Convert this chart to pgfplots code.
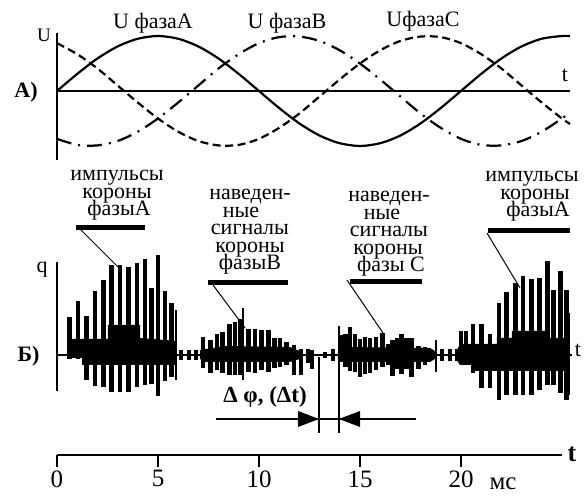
\documentclass[border=0pt]{standalone}
\usepackage{fontspec}
\setmainfont{Liberation Serif}
\usepackage{pgfplots}
\pgfplotsset{compat=1.18}

\newcommand{\lbl}{\fontsize{22}{17.5}\selectfont}

\begin{document}
\begin{tikzpicture}
\path[use as bounding box] (0pt,0pt) rectangle (584pt,497pt);

% A) three phase voltages
\begin{axis}[
    at={(57pt,337pt)}, anchor=south west,
    scale only axis, width=513pt, height=127pt,
    xmin=0, xmax=25.4, ymin=-1.255, ymax=1.055,
    axis x line=middle, axis y line=left,
    axis line style={-, line width=1.3pt},
    xtick=\empty, ytick=\empty,
    clip=false,
]
\addplot[black, line width=2.2pt, smooth] coordinates {
(0,0)(1,0.31)(2,0.59)(3,0.81)(4,0.95)(5,1)(6,0.95)(7,0.81)(8,0.59)(9,0.31)
(10,0)(11,-0.31)(12,-0.59)(13,-0.81)(14,-0.95)(15,-1)(16,-0.95)(17,-0.81)
(18,-0.59)(19,-0.31)(20,0)(21,0.31)(22,0.59)(23,0.81)(24,0.95)(25,1)(25.4,1)};
\addplot[black, line width=2.2pt, smooth, dash pattern=on 15pt off 7pt on 2pt off 7pt] coordinates {
(0,-0.87)(1,-0.98)(2,-0.99)(3,-0.91)(4,-0.74)(5,-0.5)(6,-0.21)(7,0.1)(8,0.41)
(9,0.67)(10,0.87)(11,0.98)(12,0.99)(13,0.91)(14,0.74)(15,0.5)(16,0.21)(17,-0.1)
(18,-0.41)(19,-0.67)(20,-0.87)(21,-0.98)(22,-0.99)(23,-0.91)(24,-0.74)(25,-0.5)(25.4,-0.39)};
\addplot[black, line width=2.2pt, smooth, dash pattern=on 8pt off 4.5pt] coordinates {
(0,0.87)(1,0.67)(2,0.41)(3,0.1)(4,-0.21)(5,-0.5)(6,-0.74)(7,-0.91)(8,-0.99)
(9,-0.98)(10,-0.87)(11,-0.67)(12,-0.41)(13,-0.1)(14,0.21)(15,0.5)(16,0.74)
(17,0.91)(18,0.99)(19,0.98)(20,0.87)(21,0.67)(22,0.41)(23,0.1)(24,-0.21)(25,-0.5)(25.4,-0.6)};
\end{axis}

% B) corona pulses
\begin{axis}[
    at={(57pt,106pt)}, anchor=south west,
    scale only axis, width=515pt, height=129pt,
    xmin=0, xmax=25.5, ymin=-36, ymax=93,
    axis x line=middle, axis y line=left,
    axis line style={-, line width=1.3pt},
    xtick=\empty, ytick=\empty,
    clip=false,
]
% dense core of the pulse groups
\addplot[fill=black, draw=none] coordinates {
(0.50,16)(2.52,16)(2.52,30)(4.11,30)(4.11,17)(5.94,14)
(5.94,-10)(1.24,-10)(1.24,-3)(0.50,-3)} -- cycle;
\addplot[fill=black, draw=none] coordinates {
(7.08,5)(8.32,9)(11.53,8)(12.03,4)(12.03,-4)(11.53,-7)(7.33,-7)(7.08,-4)} -- cycle;
\addplot[fill=black, draw=none] coordinates {
(13.91,4)(14.26,8)(18.47,7)(18.71,4)(18.71,-4)(18.47,-7)(14.26,-7)(13.91,-4)} -- cycle;
\addplot[fill=black, draw=none] coordinates {
(19.80,5)(19.95,11)(21.78,11)(21.78,17)(22.52,17)(22.52,24)(24.26,24)(24.26,17)(25.40,17)
(25.40,-16)(20.59,-16)(20.59,-10)(19.95,-10)(19.80,-5)} -- cycle;
% positive pulses
\addplot[ycomb, black, line width=4.5pt] coordinates {
(0.61,38)(1.05,54)(1.47,39)(1.88,64)(2.29,75)(2.71,90)(3.12,90)(3.53,88)(3.95,92)
(4.36,96)(4.69,67)(5.01,100)(5.35,64)(5.68,52)
(6.14,5)(6.53,5)(6.88,5)
(7.23,18)(7.61,15)(7.91,21)(8.20,23)(8.53,31)(8.81,33)(9.06,36)(9.47,26)(9.80,26)
(10.13,25)(10.46,25)(10.76,17)(11.04,17)(11.37,13)(11.73,10)
(12.08,6)(12.43,6)(12.62,5)(13.27,3)(13.66,6)
(14.06,20)(14.28,21)(14.50,28)(14.75,21)(15.00,16)(15.25,18)(15.50,17)(15.79,18)
(16.12,22)(16.39,11)(16.62,15)(16.83,17)(17.06,21)(17.31,17)(17.56,17)(17.89,9)
(18.22,8)(18.47,4)(19.06,6)(19.46,6)(19.80,6)
(20.00,24)(20.25,24)(20.59,31)(21.01,31)(21.44,21)(21.88,52)(22.26,63)(22.70,72)
(23.08,79)(23.50,76)(23.88,77)(24.29,94)(24.59,65)(24.94,84)(25.22,65)};
% negative pulses
\addplot[ycomb, black, line width=4.5pt] coordinates {
(0.61,-4)(1.05,-4)(1.47,-25)(1.88,-31)(2.29,-32)(2.71,-37)(3.12,-37)(3.53,-37)(3.95,-32)
(4.36,-30)(4.69,-29)(5.01,-41)(5.35,-26)(5.68,-22)
(6.14,-5)(6.53,-5)(6.88,-5)
(7.23,-13)(7.61,-18)(7.91,-15)(8.20,-18)(8.53,-20)(8.81,-20)(9.06,-20)(9.47,-17)(9.80,-18)
(10.13,-15)(10.46,-17)(10.76,-13)(11.04,-12)(11.37,-10)(11.73,-20)
(12.08,-20)(12.43,-8)(12.62,-14)(13.27,-3)(13.66,-6)
(14.06,-7)(14.28,-12)(14.50,-16)(14.75,-17)(15.00,-22)(15.25,-19)(15.50,-18)(15.79,-15)
(16.12,-12)(16.39,-10)(16.62,-21)(16.83,-14)(17.06,-19)(17.31,-14)(17.56,-22)(17.89,-14)
(18.22,-10)(18.47,-5)(19.06,-6)(19.46,-6)(19.80,-6)
(20.00,-8)(20.25,-8)(20.59,-18)(21.01,-33)(21.44,-33)(21.88,-45)(22.26,-40)(22.70,-40)
(23.08,-40)(23.50,-40)(23.88,-35)(24.29,-30)(24.59,-30)(24.94,-38)(25.22,-45)};
% thin pulses
\addplot[ycomb, black, line width=2pt] coordinates {
(5.89,45)(9.22,47)(18.76,15)(25.37,42)};
\addplot[ycomb, black, line width=2pt] coordinates {
(5.89,-25)(9.22,-25)(18.76,-17)(25.37,-40)};
\end{axis}

% time axis
\begin{axis}[
    at={(57pt,42pt)}, anchor=south west,
    scale only axis, width=505pt, height=1pt,
    xmin=0, xmax=25, ymin=0, ymax=1,
    axis x line=bottom, axis y line=none,
    axis line style={-, line width=1.3pt},
    xtick={0,5,10,15,20}, ytick=\empty,
    tick align=outside, major tick length=12pt,
    tick style={line width=1.3pt, black},
    xticklabel style={font=\fontsize{25}{25}\selectfont},
    /pgf/number format/assume math mode=true,
]
\end{axis}

\begin{scope}[shift={(0pt,497pt)}, x=1pt, y=-1pt]
\tikzset{every node/.style={inner sep=0pt, anchor=base, font=\lbl}}
% panel A text
\node at (153,29) {U фазаA};
\node at (287,29) {U фазаB};
\node at (423,27) {UфазаC};
\node[font=\fontsize{19}{19}\selectfont] at (44,42) {U};
\node at (565,82) {t};
\node[font=\fontsize{22}{22}\selectfont\bfseries] at (26,98) {A)};
% panel B text
\node at (42,273) {q};
\node at (578,357) {t};
\node[font=\fontsize{22}{22}\selectfont\bfseries] at (28.5,362) {Б)};
% group labels
\node at (117,181) {импульсы};
\node at (117,198.5) {короны};
\node at (119,216) {фазыA};
\node at (250,200) {наведен-};
\node at (241,217.5) {ные};
\node at (250,235) {сигналы};
\node at (250,252.5) {короны};
\node at (250,270) {фазыB};
\node at (389,202) {наведен-};
\node at (382,219.5) {ные};
\node at (389,237) {сигналы};
\node at (388,254.5) {короны};
\node at (391,272) {фазы C};
\node at (532,182) {импульсы};
\node at (535,199.5) {короны};
\node at (538,217) {фазыA};
% underline bars and leaders
\draw[line width=5pt] (76,228) -- (145,228);
\draw[line width=5pt] (208,283) -- (288,283);
\draw[line width=5pt] (350,282) -- (422,282);
\draw[line width=5pt] (488,231) -- (570,231);
\draw[line width=1pt] (81,230) -- (118,267);
\draw[line width=1pt] (213,285) -- (245,328);
\draw[line width=1pt] (347,280) -- (383,333);
\draw[line width=1pt] (487,233) -- (520,288);
% delta t marker
\draw[line width=1.3pt] (319,357) -- (319,433);
\draw[line width=1.3pt] (339,326) -- (339,433);
\draw[line width=1.2pt] (216,419) -- (416,419);
\fill (298,411) -- (319,419) -- (298,427) -- cycle;
\fill (360,411) -- (339,419) -- (360,427) -- cycle;
\node[font=\fontsize{23}{23}\selectfont\bfseries] at (265,403) {Δ φ, (Δt)};
% time axis text
\node[font=\fontsize{25}{25}\selectfont] at (503,490) {мс};
\node[font=\fontsize{26}{26}\selectfont\bfseries] at (572,462) {t};
\end{scope}
\end{tikzpicture}
\end{document}
